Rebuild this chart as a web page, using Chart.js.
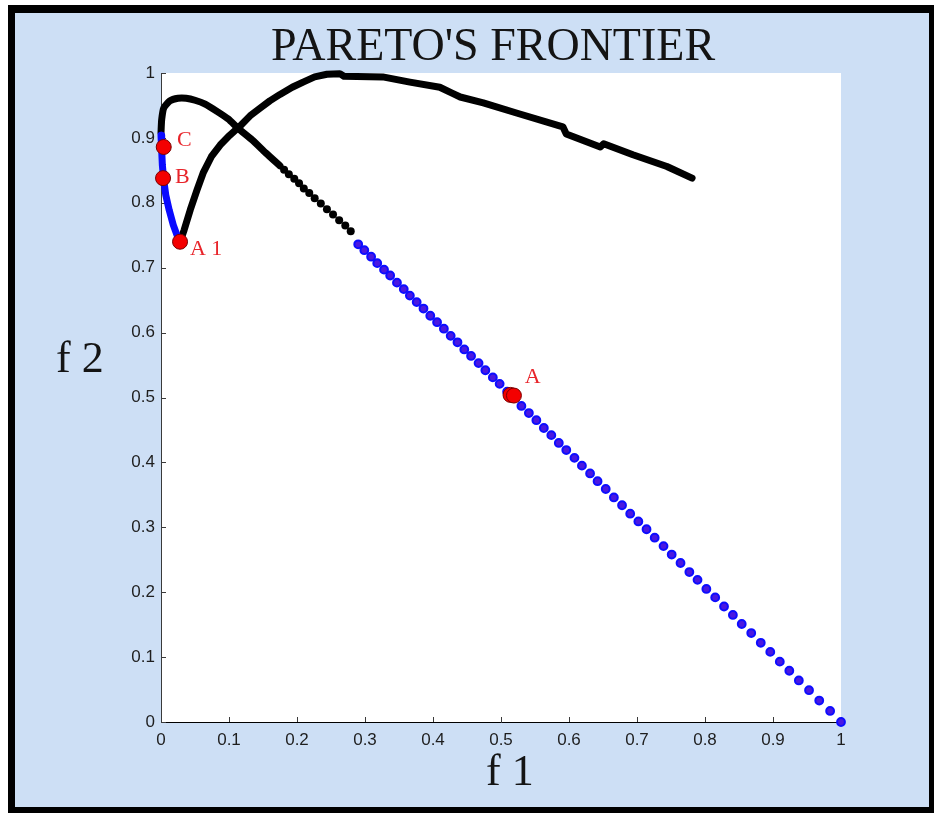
<!DOCTYPE html>
<html>
<head>
<meta charset="utf-8">
<script src="https://cdn.jsdelivr.net/npm/chart.js@4/dist/chart.umd.min.js"></script>
<style>
  html, body { margin: 0; padding: 0; background: #fff; }
  canvas { display: block; }
</style>
</head>
<body>
<canvas id="pareto" width="934" height="813"></canvas>
<script>
// tick labels
const f1Ticks = ['0', '0.1', '0.2', '0.3', '0.4', '0.5', '0.6', '0.7', '0.8', '0.9', '1'];
const f2Ticks = ['0', '0.1', '0.2', '0.3', '0.4', '0.5', '0.6', '0.7', '0.8', '0.9', '1'];

// upper black curve (solid part)
const curve1F1 = [0.000, 0.001, 0.004, 0.013, 0.025, 0.037, 0.050, 0.065, 0.082, 0.099, 0.113, 0.134, 0.154, 0.175];
const curve1F2 = [0.908, 0.928, 0.946, 0.957, 0.961, 0.961, 0.958, 0.952, 0.941, 0.929, 0.915, 0.897, 0.877, 0.857];

// upper black curve (dotted part)
const dots1F1 = [0.181, 0.188, 0.196, 0.203, 0.210, 0.218, 0.226, 0.235, 0.244, 0.253, 0.262, 0.271, 0.279];
const dots1F2 = [0.851, 0.844, 0.837, 0.830, 0.822, 0.815, 0.807, 0.799, 0.790, 0.782, 0.773, 0.765, 0.756];

// second black curve, from A1 up to the peak and on to the right
const curve2F1 = [0.028, 0.034, 0.043, 0.053, 0.062, 0.074, 0.087, 0.101, 0.116, 0.131, 0.146, 0.160, 0.175, 0.193,
    0.209, 0.226, 0.244, 0.263, 0.269, 0.326, 0.366, 0.410, 0.428, 0.440, 0.474, 0.524, 0.591, 0.596, 0.646, 0.651,
    0.694, 0.744, 0.781];
const curve2F2 = [0.740, 0.758, 0.789, 0.820, 0.846, 0.871, 0.889, 0.904, 0.918, 0.934, 0.946, 0.957, 0.967, 0.978,
    0.986, 0.994, 0.998, 0.999, 0.995, 0.994, 0.986, 0.978, 0.969, 0.963, 0.954, 0.938, 0.917, 0.906, 0.886, 0.891,
    0.874, 0.856, 0.838];

// blue solid segment C - B - A1
const blueLineF1 = [0.000, 0.001, 0.002, 0.004, 0.007, 0.012, 0.018, 0.025, 0.028];
const blueLineF2 = [0.904, 0.881, 0.858, 0.835, 0.812, 0.789, 0.766, 0.746, 0.738];

// blue dotted frontier
const blueDotsF1 = [0.290, 0.299, 0.309, 0.318, 0.328, 0.337, 0.347, 0.357, 0.366, 0.376,
    0.386, 0.396, 0.406, 0.416, 0.426, 0.436, 0.446, 0.456, 0.467, 0.477,
    0.488, 0.498, 0.509, 0.519, 0.530, 0.541, 0.552, 0.563, 0.574, 0.585,
    0.596, 0.608, 0.619, 0.631, 0.642, 0.654, 0.666, 0.678, 0.690, 0.702,
    0.714, 0.726, 0.739, 0.751, 0.764, 0.777, 0.789, 0.802, 0.815, 0.828,
    0.841, 0.854, 0.868, 0.882, 0.896, 0.910, 0.924, 0.938, 0.953, 0.968, 0.984, 1.000];
const blueDotsF2 = [0.736, 0.727, 0.717, 0.707, 0.697, 0.688, 0.677, 0.667, 0.657, 0.647,
    0.637, 0.626, 0.616, 0.606, 0.595, 0.585, 0.574, 0.564, 0.553, 0.542,
    0.531, 0.521, 0.509, 0.499, 0.487, 0.476, 0.465, 0.453, 0.442, 0.430,
    0.419, 0.407, 0.395, 0.383, 0.371, 0.359, 0.346, 0.334, 0.321, 0.309,
    0.297, 0.284, 0.271, 0.258, 0.245, 0.231, 0.219, 0.205, 0.192, 0.178,
    0.165, 0.151, 0.137, 0.122, 0.108, 0.093, 0.079, 0.064, 0.049, 0.033, 0.017, 0.000];

// red marked solutions
const redF1 = [0.004, 0.003, 0.028, 0.514, 0.519];
const redF2 = [0.886, 0.838, 0.740, 0.504, 0.503];

// point names and where their text sits
const pointNames = ['C', 'B', 'A 1', 'A'];
const nameF1 = [0.0235, 0.0206, 0.0426, 0.535];
const nameF2 = [0.8875, 0.8305, 0.7196, 0.522];

const toPoints = (xs, ys) => xs.map((x, i) => ({ x: x, y: ys[i] }));

const framePlugin = {
    id: 'frame',
    beforeDraw(chart) {
        const { ctx, chartArea: a, width, height } = chart;
        ctx.save();
        ctx.fillStyle = '#ffffff';
        ctx.fillRect(0, 0, width, height);
        ctx.fillStyle = '#000000';
        ctx.fillRect(8, 5, width - 8, height - 5);
        ctx.fillStyle = '#cddff5';
        ctx.fillRect(15, 13, 914, 794);
        ctx.fillStyle = '#ffffff';
        ctx.fillRect(a.left, a.top, a.right - a.left, a.bottom - a.top);
        ctx.restore();
    },
    beforeDatasetsDraw(chart) {
        // MATLAB style ticks pointing inwards
        const { ctx, chartArea: a } = chart;
        const xs = chart.scales.x, ys = chart.scales.y;
        ctx.save();
        ctx.strokeStyle = '#3a3a3a';
        ctx.lineWidth = 1;
        ctx.beginPath();
        xs.ticks.forEach(t => {
            const px = Math.round(xs.getPixelForValue(t.value)) + 0.5;
            ctx.moveTo(px, a.bottom);
            ctx.lineTo(px, a.bottom - 5);
        });
        ys.ticks.forEach(t => {
            const py = Math.round(ys.getPixelForValue(t.value)) + 0.5;
            ctx.moveTo(a.left, py);
            ctx.lineTo(a.left + 5, py);
        });
        ctx.stroke();
        ctx.restore();
    },
    afterDraw(chart) {
        const { ctx } = chart;
        const xs = chart.scales.x, ys = chart.scales.y;
        ctx.save();
        ctx.fillStyle = '#141414';
        ctx.textBaseline = 'alphabetic';
        ctx.font = '46px "Liberation Serif", "Times New Roman", serif';
        ctx.textAlign = 'center';
        ctx.fillText("PARETO'S FRONTIER", 493, 60);
        ctx.font = '44px "Liberation Serif", "Times New Roman", serif';
        ctx.textAlign = 'left';
        ctx.fillText('f 2', 56, 372);
        ctx.fillText('f 1', 486, 785);

        ctx.fillStyle = '#e8242a';
        ctx.font = '22px "Liberation Serif", "Times New Roman", serif';
        pointNames.forEach((name, i) => {
            ctx.fillText(name, xs.getPixelForValue(nameF1[i]), ys.getPixelForValue(nameF2[i]));
        });
        ctx.restore();
    }
};

const ctx = document.getElementById('pareto').getContext('2d');
new Chart(ctx, {
    type: 'scatter',
    data: {
        datasets: [
            {
                label: 'selected',
                data: toPoints(redF1, redF2),
                backgroundColor: '#f40000',
                borderColor: '#7a0000',
                borderWidth: 1,
                pointRadius: 7.5,
                clip: false
            },
            {
                label: 'frontier line',
                data: toPoints(blueLineF1, blueLineF2),
                showLine: true,
                borderColor: '#0a0aff',
                borderWidth: 7,
                borderCapStyle: 'round',
                borderJoinStyle: 'round',
                pointRadius: 0,
                clip: false
            },
            {
                label: 'frontier dots',
                data: toPoints(blueDotsF1, blueDotsF2),
                backgroundColor: '#4a18e0',
                borderColor: '#0d0dff',
                borderWidth: 2,
                pointRadius: 3.9,
                clip: false
            },
            {
                label: 'curve 2',
                data: toPoints(curve2F1, curve2F2),
                showLine: true,
                borderColor: '#000000',
                borderWidth: 7,
                borderCapStyle: 'round',
                borderJoinStyle: 'round',
                tension: 0,
                pointRadius: 0,
                clip: false
            },
            {
                label: 'curve 1 dots',
                data: toPoints(dots1F1, dots1F2),
                backgroundColor: '#000000',
                borderColor: '#000000',
                borderWidth: 0,
                pointRadius: 4,
                clip: false
            },
            {
                label: 'curve 1',
                data: toPoints(curve1F1, curve1F2),
                showLine: true,
                borderColor: '#000000',
                borderWidth: 7,
                borderCapStyle: 'round',
                borderJoinStyle: 'round',
                tension: 0.2,
                pointRadius: 0,
                clip: false
            }
        ]
    },
    options: {
        responsive: false,
        animation: false,
        devicePixelRatio: 1,
        layout: {
            padding: { left: 101, right: 93, top: 73, bottom: 46 }
        },
        plugins: {
            legend: { display: false },
            tooltip: { enabled: false },
            title: { display: false }
        },
        scales: {
            x: {
                type: 'linear',
                min: 0,
                max: 1,
                afterFit: (scale) => { scale.height = 45; },
                grid: { display: false, drawTicks: false },
                border: { display: true, color: '#000000', width: 1 },
                ticks: {
                    stepSize: 0.1,
                    padding: 8,
                    maxRotation: 0,
                    autoSkip: false,
                    color: '#1e1e1e',
                    font: { family: '"Liberation Sans", Arial, sans-serif', size: 17 },
                    callback: (value, index) => f1Ticks[index]
                }
            },
            y: {
                type: 'linear',
                min: 0,
                max: 1,
                afterFit: (scale) => { scale.width = 60; },
                grid: { display: false, drawTicks: false },
                border: { display: true, color: '#3a3a3a', width: 1 },
                ticks: {
                    stepSize: 0.1,
                    padding: 6,
                    autoSkip: false,
                    color: '#1e1e1e',
                    font: { family: '"Liberation Sans", Arial, sans-serif', size: 17 },
                    callback: (value, index) => f2Ticks[index]
                }
            }
        }
    },
    plugins: [framePlugin]
});
</script>
</body>
</html>
